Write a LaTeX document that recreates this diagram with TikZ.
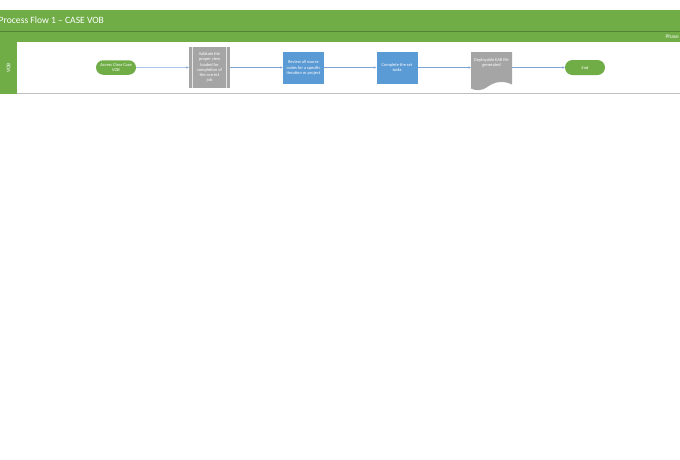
\documentclass[tikz,border=0pt]{standalone}
\usepackage{fontspec}
\setmainfont{Carlito}
\usetikzlibrary{shapes.misc,arrows.meta}
\definecolor{offgreen}{HTML}{70AD47}
\definecolor{darkgreen}{HTML}{548235}
\definecolor{offgray}{HTML}{A5A5A5}
\definecolor{offblue}{HTML}{5B9BD5}
\definecolor{connblue}{HTML}{7FA4D8}
\definecolor{lanegray}{HTML}{BFBFBF}
\begin{document}
\begin{tikzpicture}[x=1pt,y=-1pt,
  tiny/.style={font=\fontsize{4.4}{5.3}\selectfont, text=white, align=center, inner sep=1pt},
  term/.style={tiny, rounded rectangle, fill=offgreen, minimum width=42pt, minimum height=14.5pt},
  ppbox/.style={tiny, rectangle, fill=offgray, minimum width=41pt, minimum height=41pt},
  bluebox/.style={tiny, rectangle, fill=offblue, minimum width=41pt, minimum height=32pt},
  docbox/.style={tiny, rectangle, inner sep=0pt},
  conn/.style={draw=connblue, line width=0.5pt, -{Stealth[length=2.6pt,width=2.2pt]}}
]
\useasboundingbox (0,0) rectangle (680,459);
\clip (0,0) rectangle (680,459);
\fill[white] (0,0) rectangle (680,459);
% header bands
\fill[offgreen] (0,10) rectangle (680,42);
\draw[darkgreen, line width=0.6pt] (0,31) -- (680,31);
\node[anchor=west, text=white, font=\fontsize{9.6}{11}\selectfont, inner sep=0pt] (title) at (-1.5,20.5) {Process Flow 1 – CASE VOB};
\node[anchor=west, text=white, font=\fontsize{5.4}{6.5}\selectfont, inner sep=0pt] (phase) at (665.5,36.5) {Phase};
% lane
\fill[offgreen] (0,42) rectangle (17,94);
\draw[lanegray, line width=0.7pt] (17,93.5) -- (680,93.5);
\node[rotate=90, text=white, font=\fontsize{5.5}{6.5}\selectfont, inner sep=0pt] (lane) at (8.5,68) {VOB};
% shapes
\node[term] (start) at (116,67.5) {Access Clear Case\\VOB};
\node[ppbox] (val) at (209.5,67.5) {Validate the\\proper view\\loaded for\\completion of\\the correct\\job};
\draw[white!80!gray, line width=0.6pt] ([xshift=3.5pt]val.north west) -- ([xshift=3.5pt]val.south west);
\draw[white!80!gray, line width=0.6pt] ([xshift=-3.5pt]val.north east) -- ([xshift=-3.5pt]val.south east);
\node[bluebox] (rev) at (303.5,68) {Review all source\\codes for a specific\\iteration or project};
\node[bluebox] (comp) at (397,67.5) {Complete the set\\tasks};
\fill[offgray] (471,52) -- (512,52) -- (512,84.5)
  .. controls (503,80) and (494,82) .. (488,86.5)
  .. controls (482,91) and (476,91) .. (471,88.5) -- cycle;
\node[docbox] (doc) at (491.5,63) {Deployable EAR file\\generated};
\coordinate (docin) at (471,67.5);
\coordinate (docout) at (512,67.5);
\node[term, minimum height=15pt] (end) at (585,67.5) {End};
% connectors
\draw[conn] (start) -- (val);
\draw[conn] (val) -- (rev.west |- val);
\draw[conn] (rev.east |- val) -- (comp);
\draw[conn] (comp) -- (docin);
\draw[conn] (docout) -- (end);
\end{tikzpicture}
\end{document}
